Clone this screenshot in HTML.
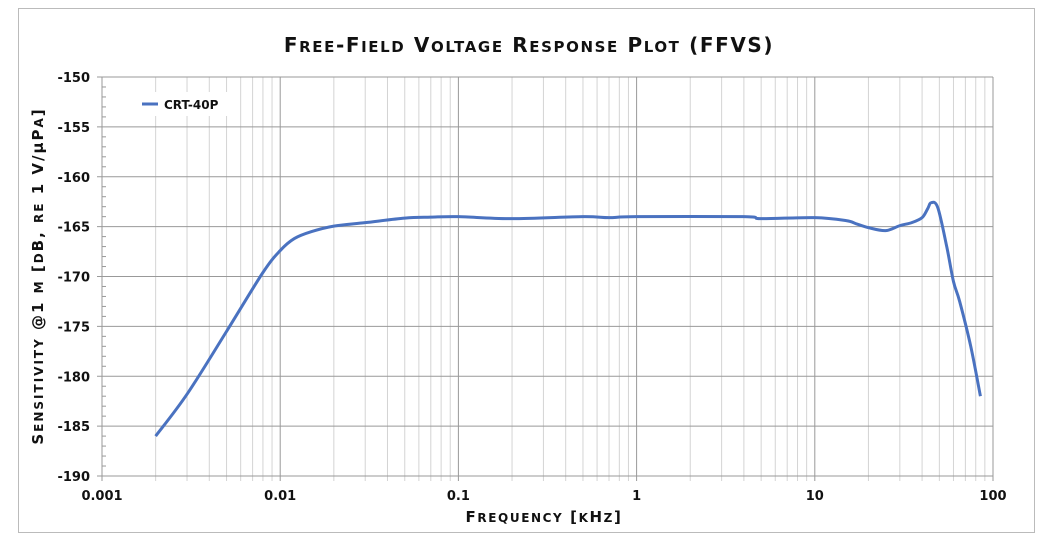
<!DOCTYPE html>
<html><head><style>
body{margin:0;background:#fff;}
svg{display:block;font-family:"DejaVu Sans","Liberation Sans",sans-serif;}
</style></head><body>
<svg id="s" width="1055" height="540" xmlns="http://www.w3.org/2000/svg">
<rect x="18.5" y="8.5" width="1016" height="524" fill="#fff" stroke="#bbb"/>
<text x="529" y="52" text-anchor="middle" font-size="20" font-weight="bold" fill="#111" letter-spacing="1.6">F<tspan font-size="15">REE</tspan>-F<tspan font-size="15">IELD</tspan> V<tspan font-size="15">OLTAGE</tspan> R<tspan font-size="15">ESPONSE</tspan> P<tspan font-size="15">LOT</tspan> (FFVS)</text>
<g id="g"></g>
<text x="544" y="522" text-anchor="middle" font-size="15" font-weight="bold" fill="#111" letter-spacing="1.6">F<tspan font-size="12">REQUENCY</tspan> [<tspan font-size="12">K</tspan>H<tspan font-size="12">Z</tspan>]</text>
<text transform="translate(43,276) rotate(-90)" text-anchor="middle" font-size="15" font-weight="bold" fill="#111" letter-spacing="2">S<tspan font-size="12">ENSITIVITY</tspan> @1 <tspan font-size="12">M</tspan> [<tspan font-size="12">D</tspan>B, <tspan font-size="12">RE</tspan> 1 V/μP<tspan font-size="12">A</tspan>]</text>
<rect x="135" y="92" width="105" height="24" fill="#fff"/>
<line x1="142" y1="104" x2="158" y2="104" stroke="#4a72c0" stroke-width="3"/>
<text x="164" y="109" font-size="12" font-weight="bold" fill="#111">CRT-40P</text>
</svg>
<script>
var L=102,R=993,T=77,B=476,D=(R-L)/5,ns="http://www.w3.org/2000/svg",g=document.getElementById('g');
function X(f){return L+D*Math.log10(f/0.001);}
function Y(v){return T+(-150-v)*(B-T)/40;}
function ln(x1,y1,x2,y2,c,w){var e=document.createElementNS(ns,'line');e.setAttribute('x1',x1);e.setAttribute('y1',y1);e.setAttribute('x2',x2);e.setAttribute('y2',y2);e.setAttribute('stroke',c);e.setAttribute('stroke-width',w||1);g.appendChild(e);}
function tx(x,y,s,a){var e=document.createElementNS(ns,'text');e.setAttribute('x',x);e.setAttribute('y',y);e.setAttribute('font-size','13');e.setAttribute('font-weight','bold');e.setAttribute('text-anchor',a);e.setAttribute('fill','#111');e.textContent=s;g.appendChild(e);}
for(var d=0;d<5;d++){for(var k=2;k<10;k++){var x=X(0.001*Math.pow(10,d)*k);ln(x,T,x,B+5,'#d4d4d4');}}
for(var d=0;d<=5;d++){var x=X(0.001*Math.pow(10,d));ln(x,T,x,B+5,'#999');}
for(var v=-150;v>=-190;v-=5){ln(L-5,Y(v),R,Y(v),'#999');tx(90,Y(v)+5,String(v),'end');}
for(var v=-150;v>-190;v--){if(v%5)ln(L,Y(v),L+4,Y(v),'#999');}
var labs=['0.001','0.01','0.1','1','10','100'];for(var d=0;d<=5;d++)tx(X(0.001*Math.pow(10,d)),500,labs[d],'middle');
var p=[[0.002,-186],[0.003,-181.8],[0.005,-175.5],[0.008,-169.6],[0.01,-167.4],[0.012,-166.2],[0.015,-165.5],[0.02,-164.95],[0.03,-164.6],[0.05,-164.15],[0.07,-164.05],[0.1,-164],[0.2,-164.2],[0.5,-164],[0.7,-164.1],[1,-164],[4,-164],[5,-164.2],[10,-164.1],[15,-164.4],[17,-164.7],[20,-165.1],[25,-165.4],[30,-164.9],[35,-164.6],[40,-164.1],[43,-163.2],[45,-162.6],[49,-163.1],[55,-167],[60,-170.5],[65,-172.5],[75,-177],[85,-182]];
var pts=p.map(function(q){return [X(q[0]),Y(q[1])];});
var d='M'+pts[0][0]+','+pts[0][1];
for(var i=0;i<pts.length-1;i++){var p0=pts[i-1]||pts[i],p1=pts[i],p2=pts[i+1],p3=pts[i+2]||p2;
d+=' C'+(p1[0]+(p2[0]-p0[0])/6)+','+(p1[1]+(p2[1]-p0[1])/6)+' '+(p2[0]-(p3[0]-p1[0])/6)+','+(p2[1]-(p3[1]-p1[1])/6)+' '+p2[0]+','+p2[1];}
var e=document.createElementNS(ns,'path');e.setAttribute('d',d);e.setAttribute('fill','none');e.setAttribute('stroke','#4a72c0');e.setAttribute('stroke-width','3');e.setAttribute('stroke-linejoin','round');g.appendChild(e);
</script>
</body></html>
